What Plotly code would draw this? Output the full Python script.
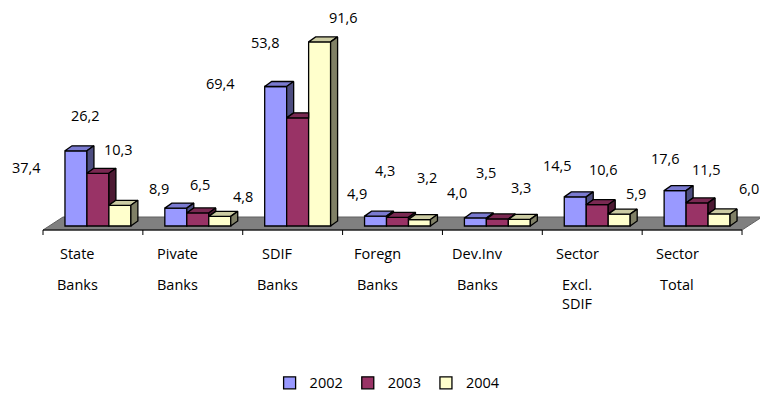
import plotly.graph_objects as go

# ---- data -------------------------------------------------------------
categories = [
    ["State", "Banks"],
    ["Pivate", "Banks"],
    ["SDIF", "Banks"],
    ["Foregn", "Banks"],
    ["Dev.Inv", "Banks"],
    ["Sector", "Excl.", "SDIF"],
    ["Sector", "Total"],
]
years = ["2002", "2003", "2004"]
values_2002 = [37.4, 8.9, 69.4, 4.9, 4.0, 14.5, 17.6]
values_2003 = [26.2, 6.5, 53.8, 4.3, 3.5, 10.6, 11.5]
values_2004 = [10.3, 4.8, 91.6, 3.2, 3.3, 5.9, 6.0]
series = [values_2002, values_2003, values_2004]

# ---- styling ----------------------------------------------------------
front_colors = ["#9999FF", "#993366", "#FFFFCC"]
top_colors = ["#7a7ad0", "#7a2952", "#cccca3"]
side_colors = ["#4d4d80", "#4d1a33", "#808066"]
FONT = "Open Sans"
FONT_SIZE = 14.5

W, H = 760, 393
X0_PX = 43.0          # pixel position of the first category boundary
SX = 99.86            # pixels per category
BASE_PX = 226.0       # pixel row of the value 0
SY = 2.01             # pixels per unit of value

BAR_W = 0.22          # bar width in category units
GROUP_OFF = 0.22      # left edge of the first bar inside a category
DEPTH_DX = 7.0 / SX   # 3-D depth offset, horizontal
DEPTH_DY = 5.0 / SY   # 3-D depth offset, vertical

# floor (in pixel-derived axis units)
FLOOR_FRONT = -4.0 / SY
FLOOR_BACK = 9.0 / SY
FLOOR_SHIFT_BACK = 20.0 / SX
TICK_LEN = 5.0 / SY

# label offsets (px right, px down) relative to each bar's front-top centre
label_offsets = [
    [(-49, 17), (-17, -20), (-55, -3), (-19, -23), (-18, -25), (-18, -31), (-10, -32)],
    [(-12, -58), (2, -28), (-32, -75), (-13, -47), (-11, -46), (6, -35), (9, -33)],
    [(-1, -56), (23, -20), (24, -24), (8, -42), (2, -32), (17, -21), (30, -25)],
]

n_cat = len(categories)

fig = go.Figure()

def bar_left(i, j):
    return i + GROUP_OFF + BAR_W * j

# front faces as bar traces
for j, (yr, vals) in enumerate(zip(years, series)):
    fig.add_trace(go.Bar(
        x=[bar_left(i, j) + BAR_W / 2 for i in range(n_cat)],
        y=vals,
        width=BAR_W,
        name=yr,
        marker=dict(color=front_colors[j], line=dict(color="black", width=1.3)),
        hoverinfo="skip",
    ))

# top and side faces (painter's order, left to right)
for i in range(n_cat):
    for j in range(3):
        v = series[j][i]
        xl = bar_left(i, j)
        xr = xl + BAR_W
        nxt = series[j + 1][i] if j < 2 else None
        # top face, clipped where the next bar's front stands taller
        if nxt is not None and nxt > v:
            tx = [xl, xl + DEPTH_DX, xr, xr, xl]
        else:
            tx = [xl, xl + DEPTH_DX, xr + DEPTH_DX, xr, xl]
        ty = [v, v + DEPTH_DY, v + DEPTH_DY, v, v]
        fig.add_trace(go.Scatter(
            x=tx, y=ty, mode="lines", fill="toself",
            fillcolor=top_colors[j], line=dict(color="black", width=1.3),
            hoverinfo="skip", showlegend=False,
        ))
        # side face, only the part not hidden by the next bar
        bottom = 0.0 if nxt is None else nxt
        if bottom < v:
            sx = [xr, xr + DEPTH_DX, xr + DEPTH_DX, xr, xr]
            sy = [v, v + DEPTH_DY, bottom + DEPTH_DY, bottom, v]
            fig.add_trace(go.Scatter(
                x=sx, y=sy, mode="lines", fill="toself",
                fillcolor=side_colors[j], line=dict(color="black", width=1.3),
                hoverinfo="skip", showlegend=False,
            ))

# floor
floor_path = (
    f"M 0 {FLOOR_FRONT} L {FLOOR_SHIFT_BACK} {FLOOR_BACK} "
    f"L {n_cat + FLOOR_SHIFT_BACK} {FLOOR_BACK} L {n_cat} {FLOOR_FRONT} Z"
)
shapes = [dict(type="path", path=floor_path, xref="x", yref="y",
               fillcolor="#808080", line=dict(color="#606060", width=1), layer="below")]
shapes.append(dict(type="line", xref="x", yref="y", x0=0, x1=n_cat,
                   y0=FLOOR_FRONT, y1=FLOOR_FRONT, line=dict(color="black", width=1)))
for k in range(n_cat + 1):
    shapes.append(dict(type="line", xref="x", yref="y", x0=k, x1=k,
                       y0=FLOOR_FRONT, y1=FLOOR_FRONT - TICK_LEN,
                       line=dict(color="black", width=1)))

annotations = []
# value labels
for j in range(3):
    for i in range(n_cat):
        v = series[j][i]
        dx, dy = label_offsets[j][i]
        annotations.append(dict(
            x=bar_left(i, j) + BAR_W / 2, y=v, xref="x", yref="y",
            text=f"{v:.1f}".replace(".", ","), showarrow=False,
            xshift=dx, yshift=-dy, xanchor="center", yanchor="middle",
            font=dict(family=FONT, size=FONT_SIZE, color="black"),
        ))

# category labels, one annotation per line
line_rows_px = [253, 284, 303]
for i, lines in enumerate(categories):
    for r, txt in enumerate(lines):
        y_px = line_rows_px[r]
        annotations.append(dict(
            x=i + 0.5, y=(BASE_PX - y_px) / SY, xref="x", yref="y",
            text=txt, showarrow=False, xshift=-15,
            xanchor="center", yanchor="middle",
            font=dict(family=FONT, size=FONT_SIZE, color="black"),
        ))

fig.update_layout(
    width=W, height=H,
    margin=dict(l=0, r=0, t=0, b=0, autoexpand=False),
    paper_bgcolor="white", plot_bgcolor="white",
    barmode="overlay",
    showlegend=True,
    legend=dict(orientation="h", x=0.51, xanchor="center", y=-0.015, yanchor="bottom",
                font=dict(family=FONT, size=FONT_SIZE, color="black"),
                itemclick=False, itemdoubleclick=False),
    xaxis=dict(range=[-X0_PX / SX, (W - X0_PX) / SX], visible=False, fixedrange=True),
    yaxis=dict(range=[-(H - BASE_PX) / SY, BASE_PX / SY], visible=False, fixedrange=True),
    shapes=shapes,
    annotations=annotations,
)

fig.write_html("out.html")
